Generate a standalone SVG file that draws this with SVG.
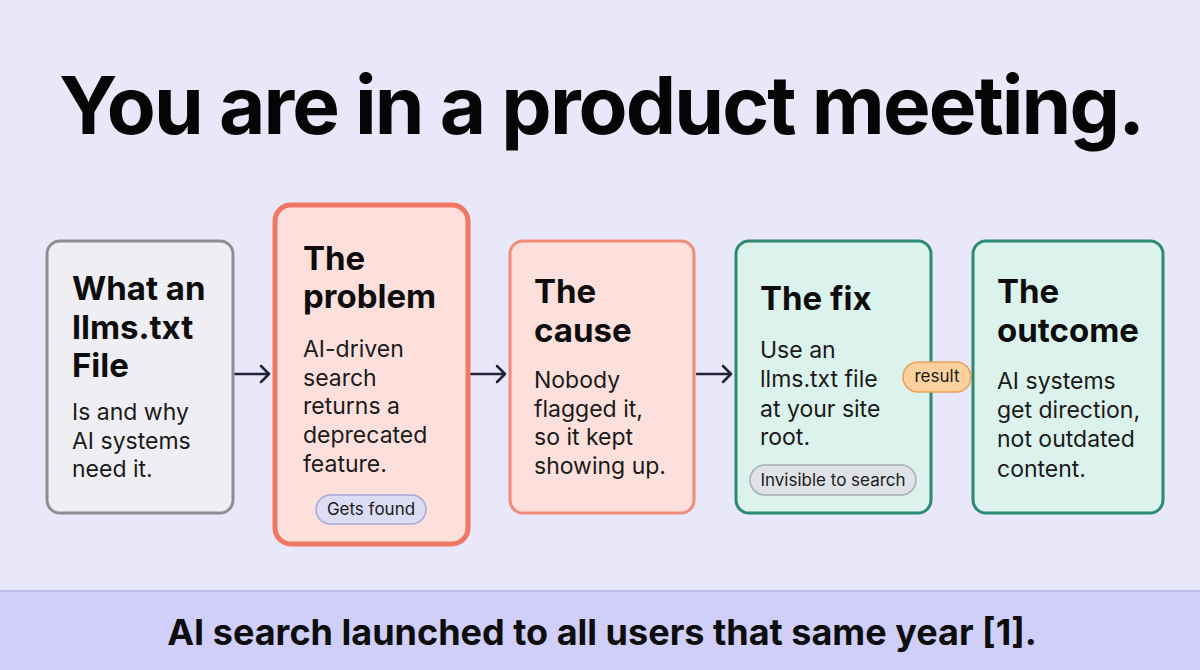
<svg xmlns="http://www.w3.org/2000/svg" width="1200" height="670" viewBox="0 0 1200 670">
<defs>
<style>
.h{font-family:Inter,"Liberation Sans",sans-serif;font-weight:700;font-size:33px;fill:#0d0d0d}
.b{font-family:Inter,"Liberation Sans",sans-serif;font-weight:400;font-size:23px;fill:#1a1a1a}
.p{font-family:Inter,"Liberation Sans",sans-serif;font-weight:400;font-size:17px;fill:#1a1a1a;text-anchor:middle}
.c{fill:none;stroke:#222236;stroke-width:2.5;stroke-linecap:round;stroke-linejoin:round}
</style>
</defs>
<rect width="1200" height="670" fill="#e8e8fa"/>
<rect x="0" y="591" width="1200" height="79" fill="#cfcffa"/>
<line x1="0" y1="591" x2="1200" y2="591" stroke="#b4b4e0" stroke-width="1.5"/>
<text x="601" y="134" text-anchor="middle" font-family="Inter,'Liberation Sans',sans-serif" font-weight="700" font-size="80" letter-spacing="-1.9" fill="#050505">You are in a product meeting.</text>
<text x="602" y="645" text-anchor="middle" font-family="Inter,'Liberation Sans',sans-serif" font-weight="700" font-size="36" fill="#0d0d0d">AI search launched to all users that same year [1].</text>

<g id="connectors">
<path class="c" d="M235 374H269M261 366L269 374L261 382"/>
<path class="c" d="M471 374H505M497 366L505 374L497 382"/>
<path class="c" d="M697 374H731M723 366L731 374L723 382"/>
<path class="c" d="M971 377H992M985 370L992 377L985 384"/>
</g>

<g id="node1">
<rect x="47" y="241" width="186" height="272" rx="13" fill="#efeff3" stroke="#8e8e92" stroke-width="3"/>
<text class="h" x="72" y="300">What an</text>
<text class="h" x="72" y="339">llms.txt</text>
<text class="h" x="72" y="377">File</text>
<text class="b" x="72" y="420">Is and why</text>
<text class="b" x="72" y="449">AI systems</text>
<text class="b" x="72" y="477">need it.</text>
</g>

<g id="node2">
<rect x="275" y="205" width="193" height="339" rx="16" fill="#fde0dc" stroke="#f07862" stroke-width="5"/>
<text class="h" x="303" y="270">The</text>
<text class="h" x="303" y="308">problem</text>
<text class="b" x="303" y="357">AI-driven</text>
<text class="b" x="303" y="386">search</text>
<text class="b" x="303" y="414">returns a</text>
<text class="b" x="303" y="443">deprecated</text>
<text class="b" x="303" y="472">feature.</text>
<rect x="316" y="495" width="110" height="29" rx="14.5" fill="#dcdcf5" stroke="#a8a8d8" stroke-width="1.5"/>
<text class="p" x="371" y="515">Gets found</text>
</g>

<g id="node3">
<rect x="510" y="241" width="184" height="272" rx="13" fill="#fde0dc" stroke="#f08c78" stroke-width="3"/>
<text class="h" x="534" y="303">The</text>
<text class="h" x="534" y="342">cause</text>
<text class="b" x="534" y="388">Nobody</text>
<text class="b" x="534" y="417">flagged it,</text>
<text class="b" x="534" y="445">so it kept</text>
<text class="b" x="534" y="474">showing up.</text>
</g>

<g id="node4">
<rect x="736" y="241" width="195" height="272" rx="13" fill="#dcf2ec" stroke="#2a8a72" stroke-width="3"/>
<text class="h" x="760" y="310">The fix</text>
<text class="b" x="760" y="358">Use an</text>
<text class="b" x="760" y="387">llms.txt file</text>
<text class="b" x="760" y="417">at your site</text>
<text class="b" x="760" y="445">root.</text>
<rect x="750" y="465" width="166" height="30" rx="15" fill="#dfe3e8" stroke="#a8aeb8" stroke-width="1.5"/>
<text class="p" x="833" y="486">Invisible to search</text>
</g>

<g id="node5">
<rect x="973" y="241" width="190" height="272" rx="13" fill="#dcf2ec" stroke="#2a8a72" stroke-width="3"/>
<text class="h" x="997" y="303">The</text>
<text class="h" x="997" y="342">outcome</text>
<text class="b" x="997" y="389">AI systems</text>
<text class="b" x="997" y="418">get direction,</text>
<text class="b" x="997" y="447">not outdated</text>
<text class="b" x="997" y="477">content.</text>
</g>

<g id="label-result">
<rect x="903" y="362" width="68" height="30" rx="15" fill="#fdd19e" stroke="#e8a25a" stroke-width="1.5"/>
<text class="p" x="937" y="382">result</text>
</g>
</svg>
